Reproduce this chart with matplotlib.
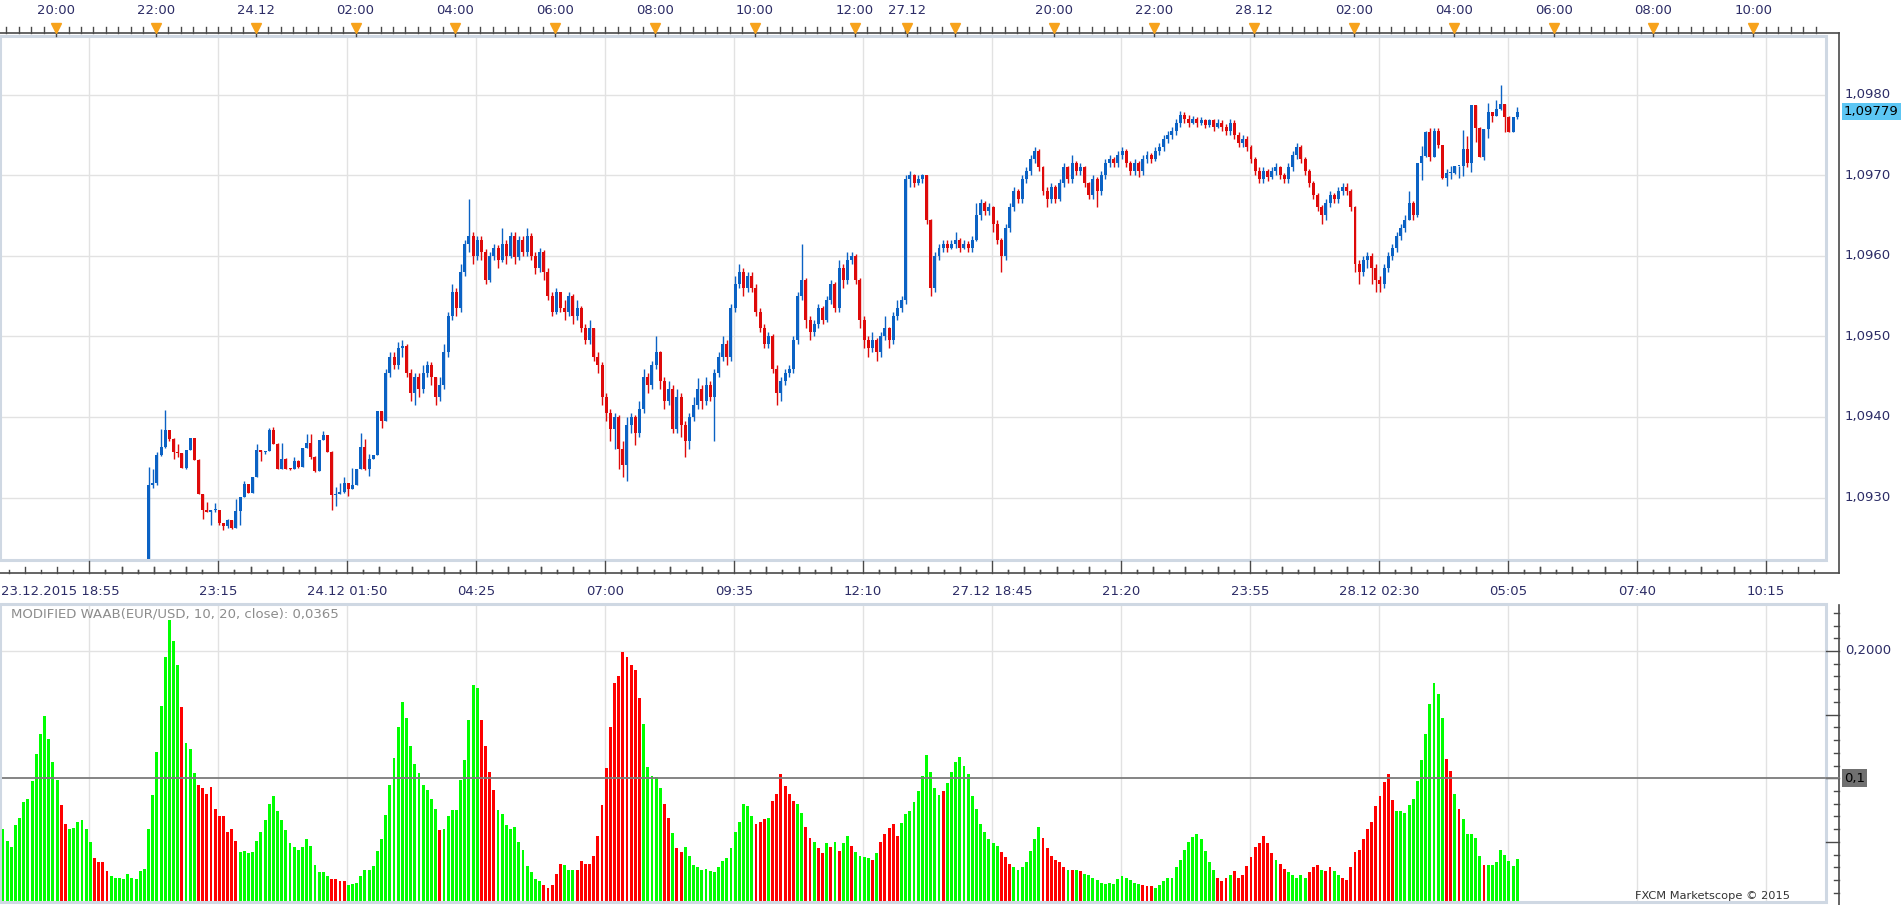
import matplotlib
matplotlib.use("Agg")
import matplotlib.pyplot as plt
import matplotlib.transforms as mtrans
from matplotlib.lines import Line2D
from matplotlib.patches import Rectangle

# ---------------- data ----------------
BASE = 1.0900      # prices stored as pips above this base
PIP = 0.0001
FIRST_CANDLE = 35  # bar index of the first candle
OPEN0 = 19.5       # open of the first candle (below the visible range)

closes = [
    31.5, 31.8, 35.3, 36.3, 38.4, 37.3, 35.6, 35.5, 33.7, 35.9,
    37.4, 34.7, 30.5, 28.5, 28.2, 28.4, 28.4, 26.8, 26.5, 27.2,
    26.2, 28.3, 30.1, 31.7, 30.6, 32.5, 35.9, 35.7, 35.8, 38.4,
    36.7, 33.6, 34.8, 33.6, 33.5, 34.5, 33.8, 36.2, 36.8, 35.0,
    33.3, 37.2, 37.8, 35.7, 30.3, 30.5, 30.7, 31.8, 31.1, 31.5,
    33.5, 36.3, 33.5, 34.8, 35.3, 40.7, 39.5, 45.5, 47.5, 46.5,
    48.5, 48.8, 45.5, 43.0, 45.0, 43.5, 45.5, 46.5, 45.0, 42.5,
    44.0, 48.0, 52.5, 55.5, 53.5, 58.0, 61.5, 62.5, 60.0, 62.0,
    60.5, 57.0, 60.0, 61.0, 59.5, 61.5, 60.0, 62.5, 59.8, 62.0,
    60.5, 62.5, 60.0, 58.5, 60.5, 58.0, 55.0, 53.0, 55.5, 53.5,
    53.0, 55.0, 52.5, 53.5, 51.0, 49.5, 51.0, 47.5, 46.5, 42.5,
    40.5, 38.5, 40.0, 36.0, 34.0, 39.0, 40.0, 38.0, 41.0, 45.0,
    44.0, 46.5, 48.0, 44.5, 42.0, 43.5, 38.5, 42.5, 39.0, 37.0,
    40.0, 41.5, 43.5, 42.0, 44.0, 42.5, 45.5, 47.5, 49.0, 47.5,
    53.5, 56.5, 58.0, 56.0, 57.5, 56.0, 53.0, 51.0, 49.0, 50.0,
    46.0, 43.0, 44.5, 45.5, 46.0, 49.5, 55.0, 57.0, 52.0, 50.5,
    51.5, 53.5, 52.0, 54.5, 56.5, 53.5, 58.5, 57.0, 59.5, 60.0,
    57.0, 52.0, 49.5, 48.5, 49.5, 48.0, 50.0, 51.0, 49.5, 52.5,
    53.5, 54.5, 69.5, 70.0, 69.0, 69.5, 70.0, 64.5, 56.0, 60.0,
    61.0, 61.5, 61.0, 61.5, 62.0, 61.0, 61.5, 61.0, 62.0, 65.0,
    66.5, 65.5, 66.0, 64.0, 62.0, 60.0, 63.5, 66.0, 68.0, 67.0,
    69.5, 70.5, 72.0, 73.0, 71.0, 68.0, 67.0, 68.5, 67.0, 69.0,
    71.0, 69.5, 71.5, 70.5, 71.0, 69.0, 67.5, 69.5, 68.0, 70.0,
    71.5, 72.0, 71.5, 72.5, 73.0, 71.5, 70.5, 71.5, 70.5, 72.0,
    72.5, 72.0, 73.0, 73.5, 74.5, 75.0, 75.5, 76.5, 77.5, 77.0,
    76.5, 77.0, 76.5, 76.8, 76.2, 76.8, 76.0, 76.5, 76.0, 75.5,
    76.5, 75.0, 74.0, 74.5, 73.5, 72.0, 70.5, 69.5, 70.5, 69.8,
    70.5, 71.0, 70.0, 69.5, 71.0, 72.5, 73.5, 72.0, 70.5, 69.0,
    67.5, 66.0, 65.0, 66.5, 67.5, 67.0, 68.0, 68.5, 68.0, 66.0,
    59.0, 58.0, 59.5, 60.0, 58.5, 57.0, 56.5, 58.5, 60.0, 61.0,
    62.5, 63.5, 64.5, 66.5, 65.0, 71.5, 72.4, 75.4, 72.3, 75.5,
    73.7, 69.6, 70.3, 70.3, 71.1, 71.2, 73.2, 71.5, 78.7, 75.9,
    72.3, 75.7, 77.8, 77.3, 78.2, 78.8, 77.2, 75.4, 77.2, 77.9,
]
highs = [
    33.8, 33.5, 35.7, 38.5, 40.9, 38.4, 37.4, 36.7, 35.5, 35.9,
    37.4, 37.4, 34.8, 30.5, 29.5, 28.4, 29.3, 28.4, 26.9, 27.3,
    27.1, 29.8, 30.1, 32.0, 31.7, 32.5, 36.6, 35.9, 35.8, 38.6,
    38.7, 36.8, 36.8, 34.9, 33.7, 35.0, 34.6, 36.2, 37.9, 37.9,
    35.2, 37.2, 38.2, 37.8, 35.8, 31.3, 31.8, 32.6, 31.8, 33.7,
    33.5, 38.0, 37.3, 35.4, 35.3, 40.8, 40.7, 46.0, 48.0, 48.0,
    49.3, 49.6, 49.0, 46.0, 45.5, 45.5, 46.5, 47.0, 46.8, 45.0,
    45.0, 49.0, 53.0, 56.5, 56.0, 59.0, 62.0, 67.0, 63.0, 62.5,
    62.5, 60.8, 60.5, 61.5, 61.3, 63.5, 62.0, 63.0, 63.0, 62.5,
    62.5, 63.5, 62.8, 60.5, 61.0, 60.7, 58.5, 55.5, 56.0, 55.5,
    54.5, 55.5, 55.2, 54.5, 53.8, 51.5, 52.0, 51.0, 48.0, 46.8,
    43.0, 41.0, 40.5, 40.2, 37.0, 40.0, 40.5, 40.2, 42.0, 46.0,
    45.5, 47.0, 50.0, 48.2, 45.0, 44.5, 44.0, 43.5, 43.0, 39.5,
    40.5, 42.5, 44.8, 44.0, 45.0, 44.5, 46.0, 48.0, 50.0, 49.5,
    54.0, 57.5, 59.0, 58.5, 58.0, 58.0, 56.5, 53.5, 51.5, 50.5,
    50.3, 46.5, 45.0, 46.0, 46.5, 50.0, 55.5, 61.5, 57.2, 52.5,
    52.0, 54.0, 53.8, 55.0, 57.0, 56.8, 59.5, 59.0, 60.5, 60.5,
    60.2, 57.2, 52.5, 50.0, 50.5, 49.8, 50.5, 52.5, 51.2, 53.0,
    54.5, 55.0, 70.0, 70.5, 70.2, 70.0, 70.2, 70.0, 64.6, 60.5,
    61.5, 62.0, 62.0, 62.0, 63.0, 62.2, 62.0, 61.8, 62.5, 66.5,
    67.0, 66.8, 66.5, 66.2, 64.5, 62.2, 64.0, 66.5, 68.5, 68.3,
    70.0, 71.0, 72.5, 73.5, 73.2, 71.2, 68.5, 69.0, 68.8, 69.5,
    71.5, 71.2, 72.5, 71.8, 71.5, 71.2, 69.2, 70.0, 69.8, 70.5,
    72.0, 72.5, 72.3, 73.0, 73.5, 73.3, 71.8, 72.0, 71.8, 72.5,
    73.0, 72.8, 73.5, 74.0, 75.0, 75.5, 76.0, 77.0, 78.0, 77.8,
    77.5, 77.3, 77.2, 77.2, 77.0, 77.0, 77.0, 77.0, 76.8, 76.3,
    77.0, 76.8, 75.3, 75.0, 74.8, 73.8, 72.3, 71.0, 71.0, 70.8,
    71.0, 71.5, 71.2, 70.3, 71.5, 73.0, 74.0, 73.8, 72.3, 70.8,
    69.3, 67.8, 66.3, 67.0, 68.0, 67.8, 68.5, 69.0, 69.0, 68.3,
    66.2, 59.5, 60.0, 60.5, 60.3, 59.0, 57.5, 59.0, 60.5, 61.5,
    63.0, 64.0, 65.0, 68.0, 66.8, 71.5, 73.6, 75.5, 75.9, 75.8,
    75.9, 73.8, 70.8, 71.1, 71.2, 71.2, 75.6, 74.8, 78.7, 78.7,
    76.0, 75.7, 78.9, 77.8, 79.3, 81.15, 78.8, 77.3, 77.2, 78.5,
]
lows = [
    19.0, 31.2, 31.6, 35.2, 36.2, 37.0, 34.8, 35.0, 33.7, 33.6,
    35.9, 34.7, 30.5, 27.3, 28.2, 26.6, 28.2, 26.6, 26.0, 26.2,
    26.1, 26.2, 26.6, 30.1, 30.6, 30.6, 32.5, 34.5, 35.4, 35.8,
    36.7, 33.6, 33.6, 33.5, 33.4, 33.5, 33.7, 33.8, 36.2, 34.8,
    33.2, 33.3, 37.2, 35.7, 28.5, 28.9, 30.5, 30.6, 30.2, 31.0,
    31.5, 33.5, 33.4, 32.7, 34.8, 35.3, 38.6, 39.5, 45.0, 46.0,
    46.0, 47.5, 45.0, 42.0, 41.5, 42.5, 43.0, 45.0, 44.0, 41.5,
    42.0, 43.5, 47.5, 52.0, 52.5, 53.0, 57.5, 60.5, 59.0, 59.5,
    59.5, 56.5, 56.8, 59.5, 58.5, 59.2, 59.0, 59.7, 59.0, 59.5,
    60.0, 60.0, 59.5, 57.8, 58.0, 57.0, 54.5, 52.5, 52.8, 53.0,
    52.0, 52.5, 51.5, 52.0, 50.5, 49.0, 49.0, 47.0, 45.5, 41.5,
    39.5, 37.0, 36.0, 33.5, 32.5, 32.0, 38.0, 36.5, 37.5, 40.5,
    43.0, 43.5, 46.0, 43.5, 41.0, 41.5, 38.0, 38.0, 37.5, 35.0,
    36.0, 39.5, 41.0, 41.0, 41.5, 42.0, 37.0, 45.0, 47.0, 46.5,
    47.0, 53.0, 56.0, 55.0, 55.5, 55.5, 52.5, 50.5, 48.5, 48.5,
    45.5, 41.5, 42.0, 44.0, 45.0, 45.5, 49.0, 54.5, 51.0, 49.5,
    50.0, 51.0, 51.5, 51.8, 54.0, 53.0, 53.0, 56.0, 56.5, 59.0,
    56.5, 51.0, 48.5, 47.5, 48.0, 47.0, 47.5, 49.5, 48.5, 49.0,
    52.0, 53.0, 54.0, 68.5, 68.5, 68.8, 69.0, 64.0, 55.0, 55.5,
    59.5, 60.5, 60.5, 60.8, 61.0, 60.5, 60.8, 60.5, 60.5, 61.8,
    64.5, 65.0, 65.0, 63.0, 61.5, 58.0, 59.5, 63.0, 65.5, 66.5,
    66.5, 69.0, 70.0, 71.5, 70.5, 67.5, 66.0, 66.5, 66.5, 66.8,
    68.5, 69.0, 69.0, 70.0, 70.0, 68.5, 67.0, 67.0, 66.0, 67.5,
    69.5, 71.0, 71.0, 71.0, 72.0, 71.0, 70.0, 70.0, 69.8, 70.0,
    71.5, 71.5, 71.8, 72.5, 73.0, 74.0, 74.5, 75.0, 76.0, 76.5,
    76.0, 76.3, 76.0, 76.2, 75.8, 76.0, 75.5, 75.8, 75.5, 75.0,
    75.0, 74.5, 73.5, 73.5, 73.0, 71.5, 70.0, 69.0, 69.0, 69.3,
    69.5, 70.0, 69.5, 69.0, 69.0, 70.5, 72.0, 71.5, 70.0, 68.5,
    67.0, 65.5, 64.0, 64.5, 66.0, 66.5, 66.5, 67.5, 67.5, 65.5,
    58.0, 56.5, 57.5, 58.5, 56.5, 55.5, 55.5, 56.0, 58.0, 59.5,
    60.5, 62.0, 63.0, 64.5, 64.5, 64.8, 69.4, 72.2, 71.8, 72.2,
    73.4, 69.5, 68.6, 69.5, 70.2, 69.6, 69.9, 71.0, 70.4, 74.1,
    72.3, 71.9, 74.6, 76.6, 77.3, 78.1, 75.3, 75.4, 75.4, 77.0,
]

waab = [
    0.060, 0.051, 0.046, 0.063, 0.069, 0.081, 0.084, 0.098, 0.119, 0.135,
    0.149, 0.131, 0.113, 0.099, 0.079, 0.064, 0.060, 0.061, 0.066, 0.067,
    0.060, 0.050, 0.037, 0.034, 0.034, 0.027, 0.023, 0.022, 0.022, 0.021,
    0.025, 0.022, 0.021, 0.027, 0.029, 0.060, 0.087, 0.121, 0.157, 0.195,
    0.224, 0.208, 0.189, 0.156, 0.128, 0.123, 0.104, 0.095, 0.092, 0.088,
    0.093, 0.076, 0.070, 0.070, 0.058, 0.060, 0.051, 0.042, 0.043, 0.041,
    0.042, 0.051, 0.058, 0.067, 0.080, 0.086, 0.074, 0.067, 0.059, 0.049,
    0.046, 0.044, 0.046, 0.052, 0.047, 0.032, 0.026, 0.026, 0.023, 0.021,
    0.021, 0.019, 0.019, 0.016, 0.017, 0.018, 0.023, 0.028, 0.028, 0.031,
    0.043, 0.052, 0.071, 0.095, 0.116, 0.140, 0.160, 0.147, 0.125, 0.111,
    0.104, 0.095, 0.091, 0.084, 0.076, 0.059, 0.060, 0.070, 0.075, 0.075,
    0.099, 0.114, 0.146, 0.173, 0.171, 0.146, 0.125, 0.105, 0.091, 0.075,
    0.072, 0.063, 0.060, 0.062, 0.050, 0.044, 0.031, 0.026, 0.021, 0.019,
    0.016, 0.014, 0.016, 0.025, 0.033, 0.032, 0.028, 0.028, 0.028, 0.035,
    0.033, 0.033, 0.039, 0.055, 0.079, 0.108, 0.140, 0.175, 0.180, 0.199,
    0.195, 0.189, 0.185, 0.163, 0.143, 0.109, 0.102, 0.101, 0.092, 0.080,
    0.069, 0.057, 0.045, 0.042, 0.046, 0.039, 0.032, 0.030, 0.028, 0.029,
    0.027, 0.026, 0.030, 0.035, 0.037, 0.045, 0.058, 0.066, 0.080, 0.078,
    0.070, 0.064, 0.066, 0.068, 0.069, 0.082, 0.088, 0.103, 0.094, 0.088,
    0.082, 0.080, 0.073, 0.062, 0.053, 0.050, 0.045, 0.041, 0.049, 0.046,
    0.050, 0.043, 0.049, 0.055, 0.047, 0.042, 0.039, 0.038, 0.037, 0.036,
    0.041, 0.050, 0.056, 0.061, 0.064, 0.055, 0.065, 0.072, 0.074, 0.081,
    0.090, 0.102, 0.118, 0.105, 0.092, 0.087, 0.090, 0.096, 0.105, 0.113,
    0.117, 0.110, 0.103, 0.086, 0.076, 0.064, 0.058, 0.052, 0.049, 0.047,
    0.042, 0.038, 0.033, 0.030, 0.028, 0.030, 0.034, 0.043, 0.052, 0.062,
    0.053, 0.045, 0.039, 0.036, 0.034, 0.030, 0.028, 0.028, 0.028, 0.027,
    0.025, 0.024, 0.022, 0.020, 0.018, 0.017, 0.018, 0.017, 0.021, 0.023,
    0.022, 0.020, 0.018, 0.017, 0.016, 0.015, 0.015, 0.014, 0.016, 0.019,
    0.022, 0.022, 0.030, 0.036, 0.044, 0.050, 0.054, 0.056, 0.052, 0.043,
    0.034, 0.028, 0.022, 0.019, 0.022, 0.024, 0.027, 0.022, 0.024, 0.031,
    0.038, 0.046, 0.049, 0.055, 0.049, 0.041, 0.036, 0.033, 0.029, 0.026,
    0.024, 0.022, 0.024, 0.022, 0.026, 0.030, 0.032, 0.028, 0.027, 0.030,
    0.027, 0.024, 0.022, 0.020, 0.030, 0.042, 0.044, 0.052, 0.060, 0.066,
    0.078, 0.086, 0.097, 0.103, 0.083, 0.074, 0.074, 0.073, 0.079, 0.084,
    0.098, 0.114, 0.135, 0.158, 0.175, 0.166, 0.147, 0.115, 0.106, 0.088,
    0.076, 0.068, 0.056, 0.056, 0.053, 0.039, 0.032, 0.032, 0.032, 0.034,
    0.044, 0.040, 0.035, 0.031, 0.0365,
]
# G = rising (green), R = falling (red); 10 bars per group
waab_dir = ("GGGGGGGGGG GGGGRRGGGG GGRRRRGGGG GGGGGGGGGG GGGRGGGRRR "
            "RRRRRRRGGG GGGGGGGGGG GGGGGGGGGR RRRGGGGGGG GGGGGGGGGG "
            "GGGGGRGGGG GGGGGRRRRG GGGGGGGGGG RRRRRGGGRR RRRRRRRRRR "
            "RRRRGGGGGR RGRRGGGGGG GGGGGGGGGG GRRRGRRRRR RGGRRGRRGR "
            "GRGGRGGGGR GRRRRRGGGG GGGGGGRGGG GGGGGGGGGG RRRGGGGGGG "
            "RRRRRRGRGR GGGGGGGGGG GGGGRRRGGG GGGGGGGGGG GGRRRGRRRR "
            "RRRRRRGRRG GGGGRRRGRR GGRRRRRRRR RRRRRGGGGG GGGGGGGRRG "
            "RGGGGGRGGG GGGGG").replace(" ", "")

price_ticks = [1.0930, 1.0940, 1.0950, 1.0960, 1.0970, 1.0980]
last_price = 1.09779
top_tick_pos = [12.75, 36.75, 60.75, 84.75, 108.75, 132.75, 156.75, 180.75, 204.75,
                217.25, 228.75, 252.75, 276.75, 300.75, 324.75, 348.75, 372.75, 396.75, 420.75]
top_tick_lab = ["20:00", "22:00", "24.12", "02:00", "04:00", "06:00", "08:00", "10:00", "12:00",
                "27.12", "", "20:00", "22:00", "28.12", "02:00", "04:00", "06:00", "08:00", "10:00"]
grid_pos = [20.75 + 31 * k for k in range(14)]
bottom_lab = ["", "23:15", "24.12 01:50", "04:25", "07:00", "09:35", "12:10",
              "27.12 18:45", "21:20", "23:55", "28.12 02:30", "05:05", "07:40", "10:15"]
first_label = "23.12.2015 18:55"
ind_title = "MODIFIED WAAB(EUR/USD, 10, 20, close): 0,0365"

# ---------------- layout ----------------
W, H = 1903, 905
fig = plt.figure(figsize=(W / 100, H / 100), dpi=100)
fig.patch.set_facecolor("white")

def fx(px):
    return px / W

def fy(py):
    return 1 - py / H

def rect(l, t, r, b):
    return [l / W, 1 - b / H, (r - l) / W, (b - t) / H]

FR_R = 1826       # right edge of plot frames (px)
AXX = 1839        # right axis line (px)
AXC = "#4a4a4a"
TXT = "#2c2c66"
FS = 9.5
GRID = "#e2e2e2"
FRAME = "#cfd8e3"

X0, X1 = -0.72, (FR_R - 3) / 4.16

ax1 = fig.add_axes(rect(0, 36, FR_R, 560))
ax2 = fig.add_axes(rect(0, 604, FR_R, 902))
for ax in (ax1, ax2):
    for s in ax.spines.values():
        s.set_visible(False)
    ax.tick_params(left=False, bottom=False, labelleft=False, labelbottom=False)
    ax.set_xlim(X0, X1)
    ax.add_patch(Rectangle((0, 0), 1, 1, transform=ax.transAxes, fill=False,
                           ec=FRAME, lw=2.2, clip_on=False, zorder=5))
    for g in grid_pos:
        ax.axvline(g, color=GRID, lw=1.0, zorder=0)

ax1.set_ylim(1.092225, 1.098727)
ax2.set_ylim(0.0028, 0.2369)
for p in price_ticks:
    ax1.axhline(p, color=GRID, lw=1.0, zorder=0)
ax2.axhline(0.2, color=GRID, lw=1.0, zorder=0)
ax2.axhline(0.1, color="#7b7b7b", lw=1.3, zorder=3)

# ---------------- candles ----------------
BLUE, RED = "#0b62c4", "#de0a0a"
xs, o_l, c_l, h_l, l_l, cols = [], [], [], [], [], []
prev = OPEN0
for k, c in enumerate(closes):
    o = prev
    h = max(highs[k], o, c)
    lo = min(lows[k], o, c)
    xs.append(FIRST_CANDLE + k)
    o_l.append(BASE + o * PIP)
    c_l.append(BASE + c * PIP)
    h_l.append(BASE + h * PIP)
    l_l.append(BASE + lo * PIP)
    cols.append(BLUE if c >= o else RED)
    prev = c
ax1.vlines(xs, l_l, h_l, colors=cols, lw=1.0, zorder=2)
bottoms = [min(a, b) for a, b in zip(o_l, c_l)]
heights = [max(abs(a - b), 0.000013) for a, b in zip(o_l, c_l)]
ax1.bar(xs, heights, bottom=bottoms, width=0.72, color=cols, linewidth=0, zorder=3)

# ---------------- indicator ----------------
wcols = ["#00ff00" if d == "G" else "#ff0000" for d in waab_dir]
ax2.bar(range(len(waab)), waab, width=0.7, color=wcols[:len(waab)], linewidth=0, zorder=2)

# ---------------- axes decorations ----------------
def fline(x0, x1, y0, y1, **kw):
    fig.add_artist(Line2D([x0, x1], [y0, y1], transform=fig.transFigure, **kw))

lw_ax = 1.2
fline(fx(0), fx(AXX), fy(33), fy(33), color=AXC, lw=lw_ax)
fline(fx(0), fx(AXX), fy(573), fy(573), color=AXC, lw=lw_ax)
fline(fx(AXX), fx(AXX), fy(33), fy(573), color=AXC, lw=lw_ax)
fline(fx(AXX), fx(AXX), fy(605), fy(905), color=AXC, lw=lw_ax)

tx1 = mtrans.blended_transform_factory(ax1.transData, fig.transFigure)
ty1 = mtrans.blended_transform_factory(fig.transFigure, ax1.transData)
ty2 = mtrans.blended_transform_factory(fig.transFigure, ax2.transData)

def add(artist):
    fig.add_artist(artist)

m = 0.75
while m < X1:
    add(Line2D([m, m], [fy(33), fy(27)], transform=tx1, color=AXC, lw=1.0))
    m += 3
for pos, lab in zip(top_tick_pos, top_tick_lab):
    add(Line2D([pos, pos], [fy(36), fy(24)], transform=tx1, color=AXC, lw=1.0))
    add(Line2D([pos], [fy(28.5)], transform=tx1, marker="v", ms=7.5, color="#f7a21b",
               mec="#f7a21b", lw=0))
    if lab:
        fig.text(pos, fy(11), lab, transform=tx1, ha="center", va="center",
                 fontsize=FS, color=TXT)

step = 31 / 8
for g in grid_pos:
    add(Line2D([g, g], [fy(573), fy(561)], transform=tx1, color=AXC, lw=1.0))
    for j in range(-7, 8):
        if j == 0:
            continue
        p = g + j * step
        if p < X0 or p > X1:
            continue
        ln = 6 if j % 2 == 0 else 3
        add(Line2D([p, p], [fy(573), fy(573 - ln)], transform=tx1, color=AXC, lw=1.0))
for g, lab in zip(grid_pos, bottom_lab):
    if lab:
        fig.text(g, fy(591), lab, transform=tx1, ha="center", va="center",
                 fontsize=FS, color=TXT)
fig.text(fx(1), fy(591), first_label, ha="left", va="center", fontsize=FS, color=TXT)

for k in range(923, 988):
    p = k / 10000
    if k % 10 == 0:
        ln = AXX - FR_R
    elif k % 5 == 0:
        ln = 8
    else:
        ln = 5
    add(Line2D([fx(AXX - ln), fx(AXX)], [p, p], transform=ty1, color=AXC, lw=1.0))
for p in price_ticks:
    fig.text(fx(AXX + 6), p, ("%.4f" % p).replace(".", ","), transform=ty1,
             ha="left", va="center", fontsize=FS, color=TXT)
fig.text(fx(AXX + 5), last_price, ("%.5f" % last_price).replace(".", ","), transform=ty1,
         ha="left", va="center", fontsize=FS, color="black",
         bbox=dict(boxstyle="square,pad=0.18", fc="#5cc6f4", ec="none"))

for k in range(1, 24):
    v = k / 100
    ln = AXX - FR_R if k % 5 == 0 else 5
    add(Line2D([fx(AXX - ln), fx(AXX)], [v, v], transform=ty2, color=AXC, lw=1.0))
fig.text(fx(AXX + 6), 0.2, "0,2000", transform=ty2, ha="left", va="center",
         fontsize=FS, color=TXT)
fig.text(fx(AXX + 5), 0.1, "0,1", transform=ty2, ha="left", va="center",
         fontsize=FS, color="black",
         bbox=dict(boxstyle="square,pad=0.18", fc="#707070", ec="none"))
add(Line2D([fx(FR_R), fx(AXX)], [0.1, 0.1], transform=ty2, color="#7b7b7b", lw=1.3))

fig.text(fx(11), fy(614), ind_title, ha="left", va="center", fontsize=FS, color="#8c8c8c")
fig.text(fx(1790), fy(896), "FXCM Marketscope \u00a9 2015", ha="right", va="center",
         fontsize=8.2, color="#333333")

fig.savefig("out.png", dpi=100, facecolor="white")
